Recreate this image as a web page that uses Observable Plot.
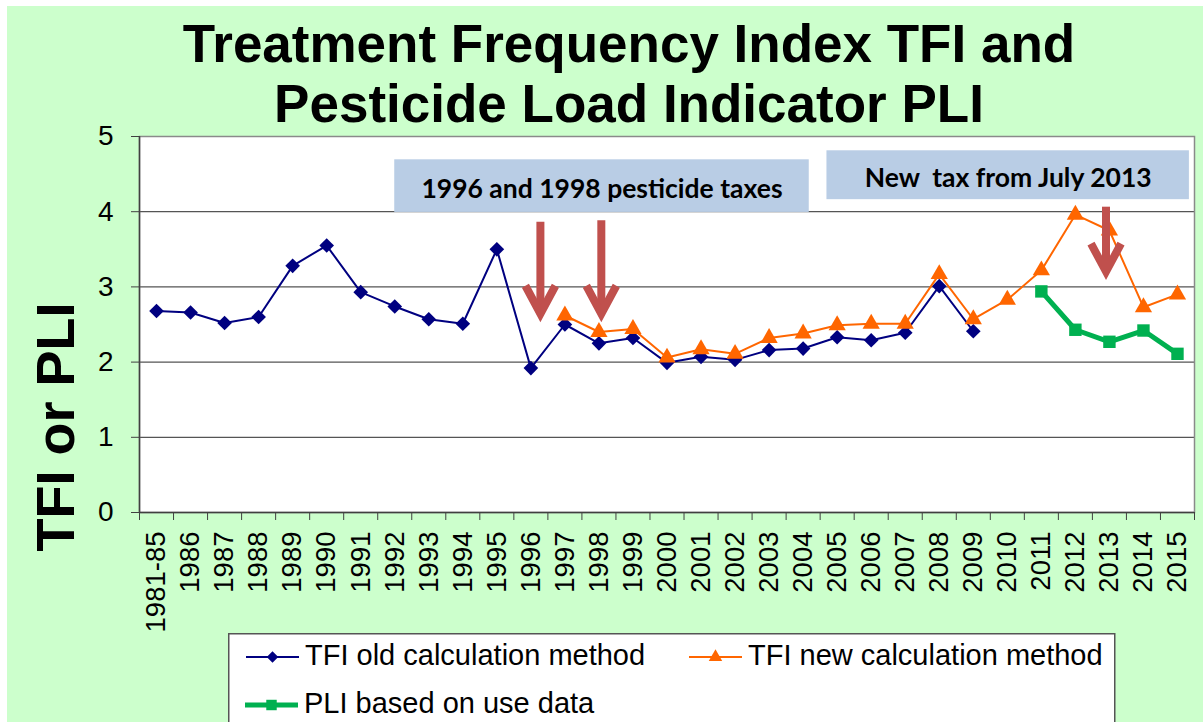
<!DOCTYPE html>
<html>
<head>
<meta charset="utf-8">
<script src="https://cdn.jsdelivr.net/npm/d3@7"></script>
<script src="https://cdn.jsdelivr.net/npm/@observablehq/plot@0.6"></script>
<style>
html,body{margin:0;padding:0;}
body{width:1203px;height:722px;overflow:hidden;background:#fff;position:relative;font-family:"Liberation Sans",Arial,sans-serif;}
#bg{position:absolute;left:7px;top:6px;right:0;bottom:0;background:#CCFFCC;}
#title{position:absolute;left:129px;width:1000px;top:13.6px;text-align:center;font-weight:bold;font-size:53px;line-height:60px;white-space:nowrap;color:#000;}
#chart{position:absolute;left:0;top:0;}
#ylab{position:absolute;left:55px;top:427px;transform:translate(-50%,-50%) rotate(-90deg);font-weight:bold;font-size:54px;line-height:54px;white-space:nowrap;color:#000;}
#legend{position:absolute;left:228px;top:633px;}
svg text{white-space:pre;}
</style>
</head>
<body>
<div id="bg"></div>
<div id="title">Treatment Frequency Index TFI and<br>Pesticide Load Indicator PLI</div>
<div id="chart"></div>
<div id="ylab">TFI or PLI</div>
<div id="legend"></div>
<script>
// ---- data ----
const categories = ["1981-85","1986","1987","1988","1989","1990","1991","1992","1993","1994","1995","1996","1997","1998","1999","2000","2001","2002","2003","2004","2005","2006","2007","2008","2009","2010","2011","2012","2013","2014","2015"];
const oldYears = ["1981-85","1986","1987","1988","1989","1990","1991","1992","1993","1994","1995","1996","1997","1998","1999","2000","2001","2002","2003","2004","2005","2006","2007","2008","2009"];
const oldTFI = [2.68,2.66,2.52,2.60,3.28,3.55,2.93,2.74,2.57,2.51,3.50,1.92,2.50,2.25,2.32,1.99,2.07,2.03,2.16,2.18,2.33,2.29,2.39,3.01,2.41];
const newYears = ["1997","1998","1999","2000","2001","2002","2003","2004","2005","2006","2007","2008","2009","2010","2011","2012","2013","2014","2015"];
const newTFI = [2.62,2.40,2.44,2.06,2.17,2.11,2.32,2.38,2.49,2.51,2.51,3.17,2.57,2.83,3.22,3.96,3.75,2.73,2.90];
const pliYears = ["2011","2012","2013","2014","2015"];
const pliValues = [2.94,2.43,2.27,2.42,2.11];
const yTicks = [0,1,2,3,4,5];
const seriesNames = ["TFI old calculation method","TFI new calculation method","PLI based on use data"];

// annotations (in category-index / value units)
const noteTexts = ["1996 and 1998 pesticide taxes","New  tax from July 2013"];
const noteFrom = [7.0, 19.7];
const noteTo = [19.18, 30.35];
const noteLow = [3.99, 4.16];
const noteHigh = [4.69, 4.81];
const arrowYears = ["1996","1998","2013"];
const arrowShift = [0.28, 0.07, -0.1];
const arrowTop = [3.86, 3.88, 4.06];
const arrowTip = [2.55, 2.55, 3.11];

// ---- styles ----
const NAVY = "#000080", ORANGE = "#FF6600", GREEN = "#00B050", RED = "#C0504D", BOX = "#B9CDE5";
const idx = y => categories.indexOf(y);

const oldData = oldYears.map((y,i)=>({i: idx(y), v: oldTFI[i]}));
const newData = newYears.map((y,i)=>({i: idx(y), v: newTFI[i]}));
const pliData = pliYears.map((y,i)=>({i: idx(y), v: pliValues[i]}));
const notes = noteTexts.map((t,i)=>({t, x1: noteFrom[i], x2: noteTo[i], y1: noteLow[i], y2: noteHigh[i]}));
const arrows = arrowYears.map((y,i)=>({x: idx(y)+arrowShift[i], top: arrowTop[i], tip: arrowTip[i]}));

const chevron = {
  draw(context) {
    context.moveTo(-15, -35);
    context.lineTo(0, -7);
    context.lineTo(15, -35);
  }
};

const chart = Plot.plot({
  width: 1203,
  height: 640,
  marginLeft: 139,
  marginRight: 9,
  marginTop: 136,
  marginBottom: 128,
  style: {background: "transparent", fontFamily: "Liberation Sans, Arial, sans-serif", color: "#000", overflow: "visible"},
  x: {type: "linear", domain: [-0.5, categories.length - 0.5], axis: null},
  y: {domain: [0, 5], axis: null},
  marks: [
    Plot.frame({fill: "white"}),
    Plot.ruleY([1,2,3,4], {stroke: "#555", strokeWidth: 1.2}),
    Plot.frame({stroke: "#8a8a8a", strokeWidth: 1.5}),
    Plot.ruleX([-0.5], {stroke: "#404040", strokeWidth: 1.5}),
    Plot.ruleY([0], {stroke: "#404040", strokeWidth: 1.5}),
    Plot.axisY({ticks: yTicks, tickFormat: "d", tickSize: 8, tickPadding: 18, fontSize: 28, label: null, stroke: "#404040"}),
    Plot.axisX({ticks: d3.range(categories.length), tickFormat: i => categories[i], tickSize: 0, tickRotate: -90, tickPadding: 19, fontSize: 27.5, label: null}),
    Plot.axisX({ticks: d3.range(categories.length + 1).map(i => i - 0.5), tickFormat: () => "", tickSize: 8, label: null, stroke: "#404040"}),
    Plot.rect(notes, {x1: "x1", x2: "x2", y1: "y1", y2: "y2", fill: BOX}),
    Plot.text(notes, {x: d => (d.x1 + d.x2) / 2, y: d => (d.y1 + d.y2) / 2, text: "t", fontFamily: "Lato, sans-serif", fontWeight: "bold", fontSize: 26.5, fill: "#000", dy: 3}),
    Plot.line(oldData, {x: "i", y: "v", stroke: NAVY, strokeWidth: 2}),
    Plot.dot(oldData, {x: "i", y: "v", symbol: "diamond2", r: 6.6, fill: NAVY, stroke: "none"}),
    Plot.line(newData, {x: "i", y: "v", stroke: ORANGE, strokeWidth: 2}),
    Plot.dot(newData, {x: "i", y: "v", symbol: "triangle", r: 6.4, fill: ORANGE, stroke: "none"}),
    Plot.line(pliData, {x: "i", y: "v", stroke: GREEN, strokeWidth: 5}),
    Plot.dot(pliData, {x: "i", y: "v", symbol: "square", r: 7, fill: GREEN, stroke: "none"}),
    Plot.ruleX(arrows, {x: "x", y1: "top", y2: "tip", stroke: RED, strokeWidth: 8, insetBottom: 12}),
    Plot.vector(arrows, {x: "x", y: "tip", length: 1, anchor: "start", shape: chevron, stroke: RED, strokeWidth: 8, strokeLinejoin: "miter", strokeLinecap: "butt"})
  ]
});
document.getElementById("chart").appendChild(chart);

// ---- legend ----
const lg = d3.select("#legend").append("svg").attr("width", 890).attr("height", 95)
  .style("font-family", "Liberation Sans, Arial, sans-serif");
lg.append("rect").attr("x", 0.75).attr("y", 0.75).attr("width", 886).attr("height", 120)
  .attr("fill", "white").attr("stroke", "#555").attr("stroke-width", 1.5);
const legendColors = [NAVY, ORANGE, GREEN];
const legendWidths = [2, 2, 5];
const legendSymbols = [d3.symbol(d3.symbolDiamond2, Math.PI*5.2*5.2), d3.symbol(d3.symbolTriangle, Math.PI*5*5), d3.symbol(d3.symbolSquare, Math.PI*5.9*5.9)];
const legendPos = [[18, 24], [461, 24], [17, 72]];
seriesNames.forEach((name, i) => {
  const [lx, ly] = legendPos[i];
  const g = lg.append("g").attr("transform", `translate(${lx},${ly})`);
  g.append("line").attr("x1", 0).attr("x2", 53).attr("y1", 0).attr("y2", 0)
    .attr("stroke", legendColors[i]).attr("stroke-width", legendWidths[i]);
  g.append("path").attr("d", legendSymbols[i]()).attr("transform", "translate(26.5,0)").attr("fill", legendColors[i]);
  g.append("text").attr("x", 59).attr("y", 8).attr("font-size", 29).attr("fill", "#000").text(name);
});
</script>
</body>
</html>
